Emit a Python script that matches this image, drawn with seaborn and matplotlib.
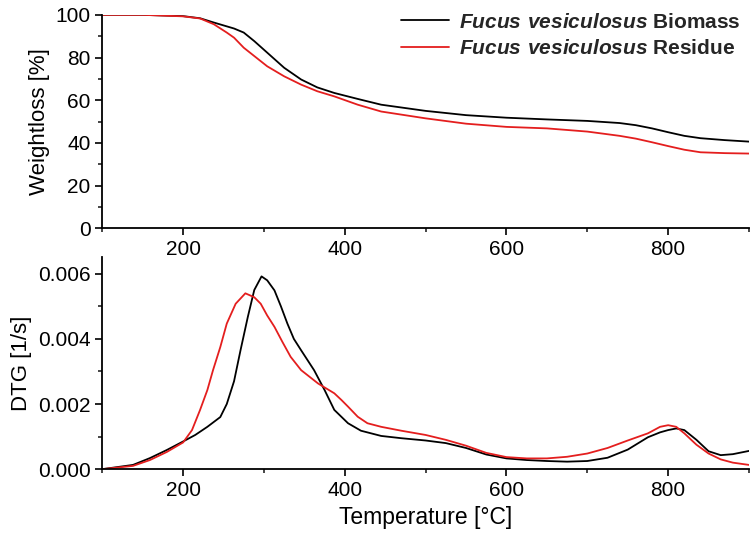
import matplotlib
matplotlib.use("Agg")
import matplotlib.pyplot as plt
import pandas as pd
import seaborn as sns
from matplotlib.ticker import MultipleLocator

# thermogravimetric curves
tg_temp_bio = [100, 150, 200, 221, 238, 263, 275, 288, 304, 325, 346, 366, 387, 416,
               445, 500, 550, 600, 650, 700, 740, 760, 780, 800, 820, 840, 870, 900]
tg_biomass = [100, 100, 99.4, 98.4, 96.4, 93.6, 91.7, 87.7, 82.3, 75.2, 69.7, 66, 63.4,
              60.6, 57.9, 55, 53, 51.8, 51, 50.3, 49.3, 48.3, 46.8, 45, 43.3, 42.2,
              41.3, 40.6]
tg_temp_res = [100, 150, 200, 221, 238, 254, 263, 275, 288, 304, 325, 346, 366, 387,
               416, 445, 500, 550, 600, 650, 700, 740, 760, 780, 800, 820, 840, 870, 900]
tg_residue = [100, 100, 99.3, 98.3, 95.6, 91.7, 89.3, 84.6, 80.7, 75.9, 71.2, 67.3,
              64.2, 61.8, 57.9, 54.7, 51.5, 49, 47.5, 46.8, 45.3, 43.3, 42, 40.3, 38.5,
              36.8, 35.6, 35.2, 35]

dtg_temp_bio = [100, 138, 159, 180, 200, 215, 230, 246, 254, 263, 271, 280, 288, 297,
                304, 313, 321, 329, 337, 346, 362, 375, 387, 404, 420, 445, 470, 500,
                525, 550, 575, 600, 625, 650, 675, 700, 725, 750, 775, 790, 800, 810,
                820, 835, 850, 865, 880, 900]
dtg_biomass = [0, 0.00013, 0.00034, 0.00059, 0.00085, 0.00105, 0.0013, 0.0016, 0.002,
               0.0027, 0.00365, 0.00467, 0.0055, 0.00592, 0.0058, 0.00549, 0.005,
               0.00447, 0.004, 0.00365, 0.00304, 0.00243, 0.00182, 0.00141, 0.00118,
               0.00102, 0.00095, 0.00088, 0.0008, 0.00065, 0.00045, 0.00033, 0.00028,
               0.00025, 0.00023, 0.00025, 0.00035, 0.0006, 0.00098, 0.00113, 0.0012,
               0.00125, 0.0012, 0.0009, 0.00055, 0.00043, 0.00046, 0.00056]
dtg_temp_res = [100, 138, 159, 180, 200, 211, 221, 230, 237, 246, 254, 265, 277, 288,
                296, 304, 313, 323, 333, 346, 367, 387, 396, 404, 416, 428, 445, 470,
                500, 525, 550, 575, 600, 625, 650, 675, 700, 725, 750, 775, 790, 800,
                810, 820, 835, 850, 865, 880, 900]
dtg_residue = [0, 0.0001, 0.00028, 0.00053, 0.00082, 0.0012, 0.00182, 0.00243, 0.00304,
               0.00375, 0.00447, 0.00508, 0.0054, 0.00528, 0.00508, 0.00472, 0.00437,
               0.0039, 0.00345, 0.00304, 0.00263, 0.00233, 0.00212, 0.00192, 0.00161,
               0.00141, 0.0013, 0.00118, 0.00105, 0.0009, 0.00072, 0.0005, 0.00037,
               0.00033, 0.00033, 0.00038, 0.00048, 0.00065, 0.00088, 0.0011, 0.0013,
               0.00135, 0.0013, 0.0011, 0.00075, 0.00048, 0.0003, 0.0002, 0.00013]

label_bio = r"$\mathbfit{Fucus\ vesiculosus}$ Biomass"
label_res = r"$\mathbfit{Fucus\ vesiculosus}$ Residue"
colors = {label_bio: "black", label_res: "#e41e1e"}


def main():
    sns.set_style("ticks")
    plt.rcParams["font.family"] = ["Liberation Sans", "DejaVu Sans"]
    plt.rcParams["mathtext.fontset"] = "custom"
    plt.rcParams["mathtext.bfit"] = "Liberation Sans:italic:bold"
    plt.rcParams["mathtext.rm"] = "Liberation Sans:bold"

    tg = pd.concat([
        pd.DataFrame({"T": tg_temp_bio, "val": tg_biomass, "series": label_bio}),
        pd.DataFrame({"T": tg_temp_res, "val": tg_residue, "series": label_res}),
    ])
    dtg = pd.concat([
        pd.DataFrame({"T": dtg_temp_bio, "val": dtg_biomass, "series": label_bio}),
        pd.DataFrame({"T": dtg_temp_res, "val": dtg_residue, "series": label_res}),
    ])

    fig = plt.figure(figsize=(7.52, 5.5), dpi=100)
    ax1 = fig.add_axes([0.136, 0.585, 0.860, 0.388])
    ax2 = fig.add_axes([0.136, 0.147, 0.860, 0.386])

    sns.lineplot(data=tg, x="T", y="val", hue="series", palette=colors,
                 linewidth=1.3, ax=ax1, sort=False)
    sns.lineplot(data=dtg, x="T", y="val", hue="series", palette=colors,
                 linewidth=1.3, ax=ax2, legend=False, sort=False)

    ax1.set_ylim(0, 100)
    ax2.set_ylim(0, 0.00652)
    for ax in (ax1, ax2):
        ax.set_xlim(100, 900)
        ax.xaxis.set_major_locator(MultipleLocator(200))
        ax.xaxis.set_minor_locator(MultipleLocator(100))
        ax.tick_params(which="major", direction="out", length=5, width=1.2,
                       labelsize=15, colors="black")
        ax.tick_params(which="minor", direction="out", length=3, width=1.2)
        for s in ("left", "bottom"):
            ax.spines[s].set_linewidth(1.3)
            ax.spines[s].set_color("black")
        sns.despine(ax=ax)

    ax1.yaxis.set_major_locator(MultipleLocator(20))
    ax1.yaxis.set_minor_locator(MultipleLocator(10))
    ax2.yaxis.set_major_locator(MultipleLocator(0.002))
    ax2.yaxis.set_minor_locator(MultipleLocator(0.001))
    ax2.yaxis.set_major_formatter(lambda v, p: f"{v:.3f}")

    ax1.set_xlabel("")
    ax1.set_ylabel("Weightloss [%]", fontsize=16, color="black")
    ax2.set_xlabel("Temperature [°C]", fontsize=16.5, color="black")
    ax2.set_ylabel("DTG [1/s]", fontsize=16, color="black")

    handles, labels = ax1.get_legend_handles_labels()
    ax1.legend(handles, labels, loc="upper right", frameon=False,
               prop={"size": 15, "weight": "bold"}, handlelength=2.3,
               handletextpad=0.5, labelspacing=0.35,
               bbox_to_anchor=(1.0, 1.05), borderaxespad=0)

    fig.savefig("out.png", dpi=100)


if __name__ == "__main__":
    main()
